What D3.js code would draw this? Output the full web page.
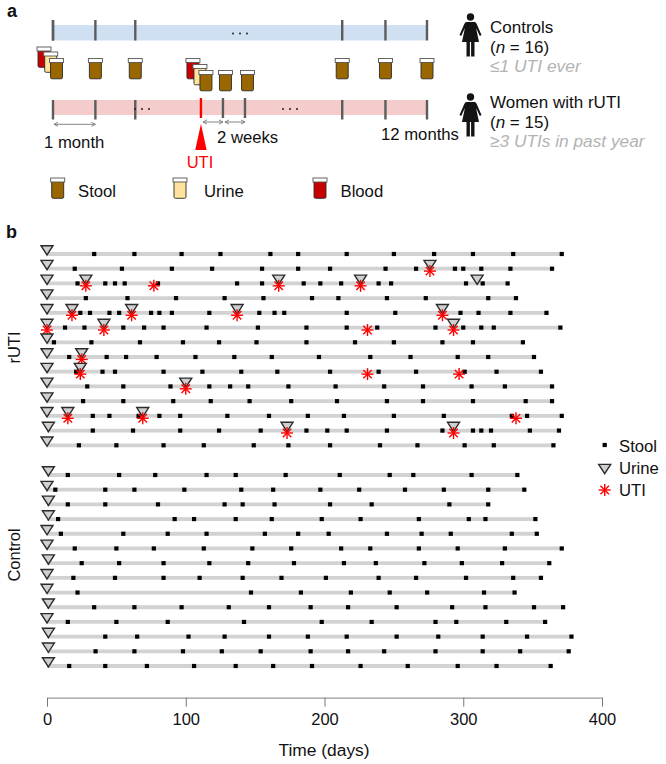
<!DOCTYPE html>
<html><head><meta charset="utf-8">
<script src="https://cdn.jsdelivr.net/npm/d3@7/dist/d3.min.js"></script>
<style>html,body{margin:0;padding:0;background:#fff}svg{display:block}text{font-family:"Liberation Sans",Arial,sans-serif;fill:#111}</style>
</head><body><svg id="c" width="666" height="764"></svg>
<script>
// ---- Panel b data (days) ----
const rutiStool = [
 [34,63,97,125,161,181,216,250,279,307,336,371],
 [20,54,90,119,155,181,204,244,266,294,300,313,334,364],
 [22,42,49,56,80,137,155,185,197,212,239,248,302,314,332],
 [28,58,93,128,156,191,210,245,273,318,338],
 [24,31,45,52,75,81,90,117,153,164,171,216,251,298,311,334,360],
 [13,27,55,70,84,115,152,187,216,238,280,300,313,322,370],
 [5,32,67,98,124,151,187,222,250,285,307,343],
 [16,43,57,79,107,135,162,196,233,262,296,318,351],
 [21,40,49,84,112,140,166,204,239,266,301,324,356],
 [29,55,89,117,132,145,174,208,243,271,306,330,364],
 [26,55,91,118,146,176,209,245,271,307,345,364],
 [33,45,66,81,96,130,160,188,214,250,286,335,346,371],
 [33,62,96,124,154,187,202,216,245,285,307,313,320,348,369],
 [23,50,84,113,149,174,204,240,267,301,322,365]
];
const rutiUrine = [
 [0],[0,276],[0,28,167,226,310],[0],[0,18,61,137,285],[0,41,293],[0],
 [0,25],[0,24],[0,100],[0],[0,15,69],[1,173,293],[0]
];
const rutiUTI = [
 [],[276],[28,77,167,226],[],[18,61,137,285],[0,41,231,293],[],
 [25],[24,231,297],[100],[],[15,69,338],[173,293],[]
];
const controlStool = [
 [15,52,78,115,136,172,211,247,264,306,339],
 [6,42,63,99,140,163,197,225,258,286,318,344],
 [15,42,80,128,141,164,204,234,290,318],
 [8,92,106,136,162,198,226,268,304,316,352],
 [10,55,87,115,157,181,203,245,270,291,335,353],
 [20,50,77,113,148,176,212,233,268,296,330,371],
 [25,52,84,117,145,178,214,237,272,299,328,362],
 [19,49,84,110,141,169,201,239,266,302,336,356],
 [22,147,183,219,247,274,315,337],
 [34,63,97,131,160,190,217,252,292,316,351,372],
 [15,50,87,142,198,234,280,295,331,359],
 [42,65,102,128,160,188,216,252,282,314,346,378],
 [35,63,98,126,154,190,217,243,280,314,341,376],
 [16,42,72,106,136,163,191,226,260,296,324,363]
];
const controlUrine = [1,0,1,1,0,0,1,0,0,1,0,1,1,1];
const xTicks = [0,100,200,300,400];
const legendItems = ["Stool","Urine","UTI"];
// ---- Panel a schedule (months / labels) ----
const scheduleMonths = [0,1.02,1.98,6.96,8,9];
const utiMonth = 3.56;
const followUpMonths = [4.09,4.62];
const tubeColors = {Stool:"#996600",Urine:"#ffe29b",Blood:"#c70000"};
const tubeLegend = ["Stool","Urine","Blood"];

const svg = d3.select("#c");
const x = d3.scaleLinear().domain([0,400]).range([47,602]);
const yR = d3.scalePoint().domain(d3.range(14)).range([254,445.3]);
const yC = d3.scalePoint().domain(d3.range(14)).range([475,666]);
const LINE="#d2d2d2";
const tri = "M-6,-8.3L6,-8.3L0,1Z";
function star(g,cx,cy,r){
  [0,45,90,135].forEach(a=>{
    const c=Math.cos(a*Math.PI/180)*r,s=Math.sin(a*Math.PI/180)*r;
    g.append("line").attr("x1",cx-c).attr("y1",cy-s).attr("x2",cx+c).attr("y2",cy+s)
      .attr("stroke","#ff0000").attr("stroke-width",1.4);
  });
}
const gb = svg.append("g");
function drawRows(stool,urine,uti,y){
  stool.forEach((row,i)=>{
    const yy=y(i), last=d3.max(row);
    gb.append("line").attr("x1",x(0)).attr("x2",x(last)).attr("y1",yy).attr("y2",yy)
      .attr("stroke",LINE).attr("stroke-width",3.8);
  });
  stool.forEach((row,i)=>{
    gb.selectAll(null).data(urine[i]).enter().append("path").attr("d",tri)
      .attr("transform",d=>`translate(${x(d)},${y(i)})`)
      .attr("fill","#d0d0d0").attr("stroke","#2b2b2b").attr("stroke-width",1.4);
    gb.selectAll(null).data(row).enter().append("rect")
      .attr("x",d=>x(d)-2.1).attr("y",y(i)-2.1).attr("width",4.2).attr("height",4.2).attr("fill","#000");
    (uti[i]||[]).forEach(d=>star(gb,x(d),y(i)+2.4,6));
  });
}
drawRows(rutiStool,rutiUrine,rutiUTI,yR);
drawRows(controlStool,controlUrine.map(d=>[d]),[],yC);

// axis
const axis = d3.axisBottom(x).tickValues(xTicks).tickSize(9).tickPadding(7).tickSizeOuter(0);
const ax = svg.append("g").attr("transform","translate(0,697.7)").call(axis);
ax.select(".domain").attr("stroke","#999").attr("stroke-width",1.3);
ax.selectAll(".tick line").attr("stroke","#777").attr("stroke-width",1);
ax.selectAll("text").attr("font-size",16.5).style("fill","#111").style("font-family",'"Liberation Sans",Arial,sans-serif');
function T(s,xx,yy,size,opt={}){
  const t=svg.append("text").attr("x",xx).attr("y",yy).attr("font-size",size).text(s);
  if(opt.anchor)t.attr("text-anchor",opt.anchor);
  if(opt.fill)t.style("fill",opt.fill);
  if(opt.italic)t.attr("font-style","italic");
  if(opt.bold)t.attr("font-weight","bold");
  if(opt.rot)t.attr("transform",`rotate(-90 ${xx} ${yy})`);
  return t;
}
T("Time (days)",324,755.5,17.4,{anchor:"middle"});
T("rUTI",20,347.5,16.5,{anchor:"middle",rot:1});
T("Control",20,555,16.5,{anchor:"middle",rot:1});
T("a",7,17,18,{bold:1});
T("b",6,238,18,{bold:1});

// legend
const lx=604.7;
svg.append("rect").attr("x",lx-2.1).attr("y",442.9).attr("width",4.2).attr("height",4.2).attr("fill","#000");
svg.append("path").attr("d",tri).attr("transform",`translate(${lx},472.7)`).attr("fill","#d0d0d0").attr("stroke","#2b2b2b").attr("stroke-width",1.4);
star(svg,lx,490,6);
legendItems.forEach((s,i)=>T(s,619,[451.5,474,496][i],16.7));

// ---- Panel a ----
const m = d3.scaleLinear().domain([0,9]).range([53,427]);
const GREY="#5c5c5c";
const ga = svg.append("g");
ga.append("rect").attr("x",m(0)).attr("width",m(9)-m(0)).attr("y",25).attr("height",15.5).attr("fill","#cfe0f2");
ga.append("rect").attr("x",m(0)).attr("width",m(9)-m(0)).attr("y",100).attr("height",15).attr("fill","#f4cccc");
function vt(xx,y1,y2,c){ga.append("line").attr("x1",xx).attr("x2",xx).attr("y1",y1).attr("y2",y2).attr("stroke",c).attr("stroke-width",2.4);}
vt(m(0),20,40.5,GREY);
scheduleMonths.forEach(d=>{vt(m(d),20,40.5,GREY);vt(m(d),100,119.5,GREY);});
followUpMonths.forEach(d=>vt(m(d),98,118,GREY));
vt(m(utiMonth),98,118,"#ff0000");
function dots(cx,cy){[-7,0,7].forEach(o=>ga.append("circle").attr("cx",cx+o).attr("cy",cy).attr("r",1).attr("fill","#222"));}
dots(240,33.5);dots(142,109);dots(290,109);

function tube(cx,top,kind){
  const g=ga.append("g").attr("transform",`translate(${cx},${top})`);
  g.append("path").attr("d","M-6,3.5H6V18.8Q6,20.3 4.5,20.3H-4.5Q-6,20.3 -6,18.8Z")
    .attr("fill",tubeColors[kind]).attr("stroke","#2a2a2a").attr("stroke-width",0.9);
  g.append("rect").attr("x",-7).attr("y",0).attr("width",14).attr("height",4)
    .attr("fill","#fff").attr("stroke","#555").attr("stroke-width",0.9);
}
// baseline collection
tube(m(0)-9,47,"Blood");tube(m(0)-2.3,52,"Urine");tube(m(0)+3.5,58.5,"Stool");
scheduleMonths.slice(1).forEach(d=>tube(m(d),58.5,"Stool"));
// collection at UTI
tube(m(utiMonth)-8,58.5,"Blood");tube(m(utiMonth)-1,64.5,"Urine");tube(m(utiMonth)+5,70.5,"Stool");
followUpMonths.forEach(d=>tube(m(d)+2.5,70.5,"Stool"));

// interval arrows
function arrow(x1,x2,yy){
  ga.append("line").attr("x1",x1).attr("x2",x2).attr("y1",yy).attr("y2",yy).attr("stroke","#777").attr("stroke-width",0.9);
  ga.append("path").attr("d",`M${x1+4},${yy-2}L${x1},${yy}L${x1+4},${yy+2}`).attr("fill","none").attr("stroke","#777").attr("stroke-width",0.9);
  ga.append("path").attr("d",`M${x2-4},${yy-2}L${x2},${yy}L${x2-4},${yy+2}`).attr("fill","none").attr("stroke","#777").attr("stroke-width",0.9);
}
arrow(m(0)+1,m(1.02),124.3);
arrow(m(utiMonth)+2,m(followUpMonths[0]),122);
arrow(m(followUpMonths[0])+2,m(followUpMonths[1]),122);
ga.append("path").attr("d",`M${m(utiMonth)},124L${m(utiMonth)+5.7},150H${m(utiMonth)-5.7}Z`).attr("fill","#ff0000");

T("1 month",44,148,16.7);
T("2 weeks",217,143,16.7);
T("12 months",381,140,16.7);
T("UTI",200,168,16.5,{anchor:"middle",fill:"#ff0000"});
tubeLegend.forEach((s,i)=>{
  const cx=[57.7,180,320][i];
  tube(cx,178,s);
  T(s,[78,204,340.5][i],197,16.7);
});

// people
function woman(cx,cy){
  const g=ga.append("g").attr("transform",`translate(${cx},${cy})`).attr("fill","#141414");
  g.append("circle").attr("r",3.7);
  g.append("path").attr("d","M-4,5L4,5Q5.5,5 6.2,7L11,18L9.3,19L5.6,11L8.5,25L4,25V39.5H0.6V25H-0.6V39.5H-4V25L-8.5,25L-5.6,11L-9.3,19L-11,18L-6.2,7Q-5.5,5 -4,5Z");
}
woman(470.5,17);woman(470.5,97);
function nLine(val,yy){
  const t=svg.append("text").attr("x",490).attr("y",yy).attr("font-size",17);
  t.append("tspan").text("(");
  t.append("tspan").attr("font-style","italic").text("n");
  t.append("tspan").text(" = "+val+")");
}
T("Controls",490,33,17);
nLine(16,53);
T("≤1 UTI ever",490,71.5,17.4,{italic:1,fill:"#b3b3b3"});
T("Women with rUTI",490,108,17);
nLine(15,128);
T("≥3 UTIs in past year",490,147,17.3,{italic:1,fill:"#b3b3b3"});
</script></body></html>
